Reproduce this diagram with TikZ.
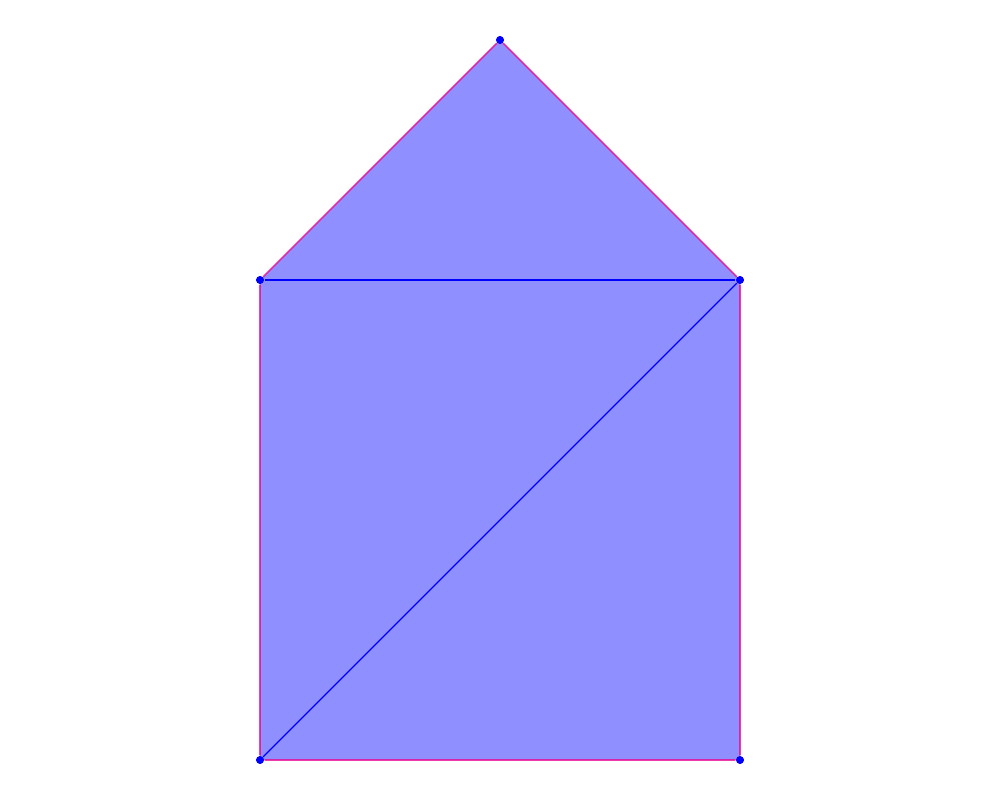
\documentclass[tikz,border=0pt]{standalone}
\usepackage{tikz}

\begin{document}
\begin{tikzpicture}[vertex/.style={circle,fill=blue,inner sep=0pt,minimum size=2.2pt},
    outer/.style={magenta,line width=0.45pt,draw opacity=0.75},
    inner/.style={blue,line width=0.35pt}]
    \useasboundingbox (0,0) rectangle (10,8);
    % vertices of the house
    \node[vertex] (apex) at (5,7.6) {};
    \node[vertex] (ml) at (2.6,5.2) {};
    \node[vertex] (mr) at (7.4,5.2) {};
    \node[vertex] (bl) at (2.6,0.4) {};
    \node[vertex] (br) at (7.4,0.4) {};

    \fill[blue,opacity=0.44] (apex.center) -- (mr.center) -- (br.center) -- (bl.center) -- (ml.center) -- cycle;

    \draw[outer] (apex) -- (mr) -- (br) -- (bl) -- (ml) -- (apex);
    \draw[inner] (ml) -- (mr);
    \draw[inner] (bl) -- (mr);

    % redraw the dots on top
    \foreach \v in {apex,ml,mr,bl,br}
      \node[vertex] at (\v) {};
\end{tikzpicture}
\end{document}
